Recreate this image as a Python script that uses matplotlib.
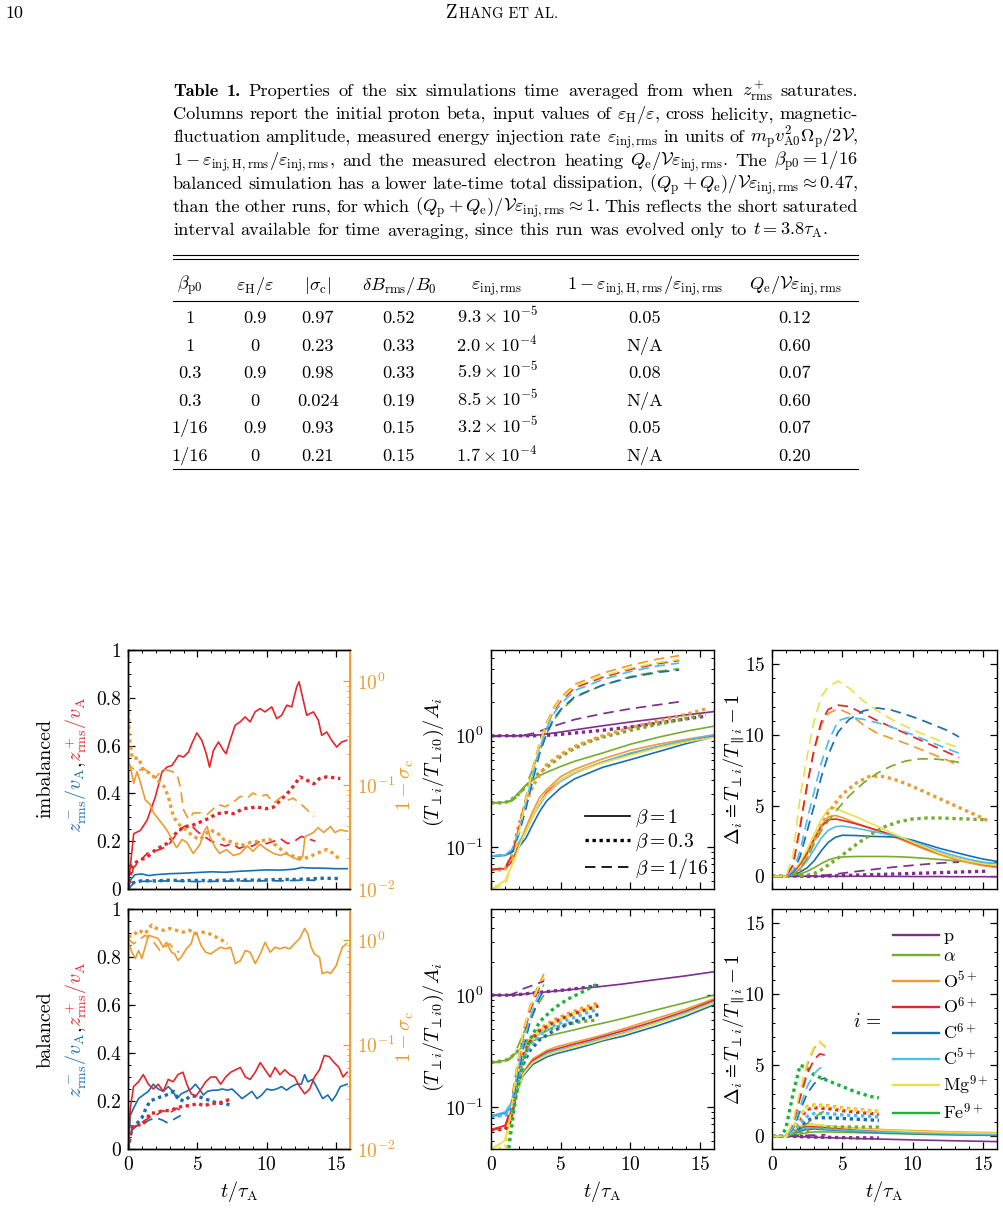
import matplotlib
matplotlib.use('Agg')
import matplotlib.pyplot as plt
from matplotlib.lines import Line2D
from matplotlib.ticker import MultipleLocator, FixedLocator, FixedFormatter, NullFormatter, LogLocator

plt.rcParams.update({
    'font.family': 'serif', 'font.serif': ['cmr10'], 'mathtext.fontset': 'cm',
    'axes.unicode_minus': False, 'axes.formatter.use_mathtext': True,
    'axes.linewidth': 1.0,
    'xtick.direction': 'in', 'ytick.direction': 'in',
    'xtick.top': True, 'ytick.right': True,
    'xtick.major.size': 5, 'ytick.major.size': 5,
    'xtick.minor.size': 2.5, 'ytick.minor.size': 2.5,
    'xtick.major.width': 0.9, 'ytick.major.width': 0.9,
    'xtick.minor.width': 0.7, 'ytick.minor.width': 0.7,
    'xtick.labelsize': 14, 'ytick.labelsize': 14,
    'xtick.major.pad': 5, 'ytick.major.pad': 5,
})

# ------------------------------------------------------------------ text data
CAPTION_LINES = [
    r"**Table **1. Properties of the six simulations time averaged from when $z^+_{\rm rms}$ saturates.",
    r"Columns report the initial proton beta, input values of $\varepsilon_{\rm H}/\varepsilon$, cross helicity, magnetic-",
    r"fluctuation amplitude, measured energy injection rate $\varepsilon_{\rm inj,rms}$ in units of $m_{\rm p}v^2_{\rm A0}\Omega_{\rm p}/2\mathcal{V}$,",
    r"$1-\varepsilon_{\rm inj,H,rms}/\varepsilon_{\rm inj,rms}$, and the measured electron heating $Q_{\rm e}/\mathcal{V}\varepsilon_{\rm inj,rms}$. The $\beta_{\rm p0}=1/16$",
    r"balanced simulation has a lower late-time total dissipation, $(Q_{\rm p}+Q_{\rm e})/\mathcal{V}\varepsilon_{\rm inj,rms}\approx 0.47$,",
    r"than the other runs, for which $(Q_{\rm p}+Q_{\rm e})/\mathcal{V}\varepsilon_{\rm inj,rms}\approx 1$. This reflects the short saturated",
    r"interval available for time averaging, since this run was evolved only to $t=3.8\tau_{\rm A}$.",
]

TAB_HEADERS = [r'$\beta_{\rm p0}$', r'$\varepsilon_{\rm H}/\varepsilon$', r'$|\sigma_{\rm c}|$',
               r'$\delta B_{\rm rms}/B_0$', r'$\varepsilon_{\rm inj,rms}$',
               r'$1-\varepsilon_{\rm inj,H,rms}/\varepsilon_{\rm inj,rms}$',
               r'$Q_{\rm e}/\mathcal{V}\varepsilon_{\rm inj,rms}$']
BETA_P0 = ['1', '1', '0.3', '0.3', '1/16', '1/16']
EPS_H = ['0.9', '0', '0.9', '0', '0.9', '0']
SIGMA_C = ['0.97', '0.23', '0.98', '0.024', '0.93', '0.21']
DB_RMS = ['0.52', '0.33', '0.33', '0.19', '0.15', '0.15']
EPS_INJ = [r'$9.3\times10^{-5}$', r'$2.0\times10^{-4}$', r'$5.9\times10^{-5}$',
           r'$8.5\times10^{-5}$', r'$3.2\times10^{-5}$', r'$1.7\times10^{-4}$']
ONE_MINUS = ['0.05', 'N/A', '0.08', 'N/A', '0.05', 'N/A']
QE = ['0.12', '0.60', '0.07', '0.60', '0.07', '0.20']

SPECIES = ['p', 'alpha', 'O5', 'O6', 'C6', 'C5', 'Mg9', 'Fe9']
SPECIES_LABELS = ['p', r'$\alpha$', r'O$^{5+}$', r'O$^{6+}$', r'C$^{6+}$', r'C$^{5+}$',
                  r'Mg$^{9+}$', r'Fe$^{9+}$']
BETA_LABELS = [r'$\beta=1$', r'$\beta=0.3$', r'$\beta=1/16$']
LEFT_TICKS = [0, 0.2, 0.4, 0.6, 0.8, 1.0]
LEFT_TICKLABELS = ['0', '0.2', '0.4', '0.6', '0.8', '1']
X_TICKS = [0, 5, 10, 15]
DELTA_TICKS = [0, 5, 10, 15]

# ------------------------------------------------------------------ left panels (t, value)
TL_ZP_B1 = [(0, 0), (0.41, 0.231), (0.89, 0.245), (1.37, 0.287), (1.97, 0.385), (2.45, 0.49), (2.81, 0.51),
            (3.17, 0.517), (3.65, 0.559), (4.0, 0.552), (4.36, 0.573), (4.6, 0.608), (4.96, 0.653), (5.32, 0.622),
            (5.64, 0.566), (5.88, 0.51), (6.16, 0.58), (6.52, 0.615), (6.88, 0.58), (7.07, 0.566), (7.36, 0.622),
            (7.72, 0.685), (8.08, 0.699), (8.44, 0.72), (8.8, 0.699), (9.16, 0.741), (9.52, 0.755), (9.88, 0.741),
            (10.36, 0.762), (10.72, 0.713), (11.08, 0.727), (11.44, 0.769), (11.8, 0.762), (12.16, 0.846),
            (12.33, 0.867), (12.52, 0.818), (12.88, 0.727), (13.36, 0.741), (13.72, 0.706), (13.96, 0.643),
            (14.32, 0.657), (14.68, 0.622), (15.04, 0.594), (15.4, 0.615), (15.76, 0.622)]
TL_ZP_B03 = [(0, 0), (0.3, 0.1), (0.8, 0.12), (1.37, 0.133), (2.0, 0.165), (2.8, 0.19), (3.4, 0.23), (4.0, 0.26),
             (4.6, 0.265), (5.2, 0.28), (5.8, 0.295), (6.4, 0.315), (7.1, 0.32), (7.6, 0.315), (8.3, 0.336),
             (9.3, 0.343), (10.0, 0.336), (10.5, 0.343), (11.1, 0.378), (11.7, 0.413), (12.4, 0.469), (12.9, 0.455),
             (13.4, 0.44), (13.8, 0.462), (14.3, 0.469), (14.8, 0.466), (15.3, 0.462)]
TL_ZP_B16 = [(0, 0), (0.4, 0.09), (0.9, 0.12), (1.4, 0.15), (2.0, 0.16), (2.5, 0.17), (3.0, 0.19), (3.5, 0.23),
             (4.0, 0.26), (4.5, 0.27), (5.0, 0.24), (5.5, 0.22), (6.0, 0.2), (6.5, 0.19), (7.0, 0.18), (7.5, 0.19),
             (8.0, 0.17), (8.5, 0.18), (9.0, 0.18), (9.5, 0.2), (10.0, 0.19), (10.5, 0.2), (11.0, 0.21),
             (11.5, 0.19), (12.0, 0.2), (12.5, 0.22), (13.0, 0.21), (13.5, 0.2)]
TL_ZM_B1 = [(0, 0), (0.2, 0.04), (0.5, 0.06), (1.0, 0.063), (1.5, 0.056), (2.0, 0.06), (3.0, 0.064), (4.0, 0.066),
            (5.0, 0.069), (6.0, 0.072), (7.0, 0.07), (8.0, 0.074), (9.0, 0.077), (10.0, 0.08), (11.0, 0.079),
            (12.0, 0.083), (12.5, 0.09), (13.0, 0.088), (14.0, 0.087), (15.0, 0.085), (15.8, 0.085)]
TL_ZM_B03 = [(0, 0), (0.3, 0.025), (0.7, 0.03), (1.0, 0.035), (2.0, 0.034), (3.0, 0.037), (4.0, 0.035), (5.0, 0.036),
             (6.0, 0.035), (7.0, 0.037), (8.0, 0.038), (9.0, 0.037), (10.0, 0.038), (11.0, 0.04), (12.0, 0.04),
             (13.0, 0.042), (14.0, 0.045), (15.0, 0.044), (15.3, 0.043)]
TL_ZM_B16 = [(0, 0), (0.5, 0.03), (1.0, 0.032), (2.0, 0.033), (3.0, 0.034), (4.0, 0.032), (5.0, 0.031), (6.0, 0.032),
             (7.0, 0.033), (8.0, 0.034), (9.0, 0.033), (10.0, 0.035), (11.0, 0.034), (12.0, 0.036), (13.0, 0.037),
             (13.5, 0.036)]
TL_SIG_B1 = [(0.0, 0.17), (0.17, 0.151), (0.41, 0.104), (0.65, 0.135), (0.84, 0.112), (1.25, 0.072), (1.6, 0.065),
             (1.85, 0.054), (2.2, 0.047), (2.8, 0.037), (3.17, 0.030), (3.5, 0.025), (3.9, 0.030), (4.25, 0.028),
             (4.7, 0.022), (5.2, 0.027), (5.45, 0.035), (5.7, 0.040), (5.9, 0.032), (6.3, 0.025), (6.6, 0.022),
             (7.1, 0.024), (7.6, 0.021), (8.1, 0.022), (8.6, 0.026), (9.0, 0.023), (9.5, 0.027), (10.0, 0.024),
             (10.5, 0.022), (11.0, 0.021), (11.4, 0.022), (11.9, 0.020), (12.4, 0.019), (12.6, 0.021),
             (12.76, 0.032), (13.0, 0.033), (13.36, 0.035), (13.7, 0.039), (14.1, 0.035), (14.6, 0.040),
             (14.9, 0.035), (15.3, 0.037), (15.8, 0.036)]
TL_SIG_B03 = [(0.0, 0.95), (0.08, 0.3), (0.3, 0.182), (0.77, 0.182), (1.1, 0.14), (1.6, 0.13), (2.1, 0.112),
              (2.6, 0.097), (2.9, 0.078), (3.2, 0.054), (3.4, 0.047), (3.8, 0.040), (4.2, 0.037), (4.7, 0.032),
              (5.2, 0.030), (5.9, 0.037), (6.4, 0.035), (6.9, 0.030), (7.6, 0.028), (8.1, 0.026), (8.8, 0.028),
              (9.5, 0.029), (10.2, 0.030), (10.7, 0.026), (11.4, 0.022), (12.2, 0.020), (12.9, 0.020),
              (13.6, 0.022), (14.3, 0.024), (14.8, 0.022), (15.3, 0.019)]
TL_SIG_B16 = [(0.0, 0.17), (0.17, 0.151), (0.65, 0.135), (1.1, 0.146), (1.6, 0.13), (1.97, 0.117), (2.45, 0.14),
              (2.8, 0.14), (3.17, 0.135), (3.5, 0.13), (3.77, 0.097), (4.0, 0.058), (4.36, 0.047), (4.72, 0.054),
              (5.2, 0.054), (5.7, 0.052), (6.2, 0.06), (6.5, 0.065), (7.0, 0.062), (7.5, 0.067), (8.1, 0.078),
              (8.6, 0.075), (9.0, 0.084), (9.5, 0.078), (10.0, 0.081), (10.5, 0.067), (11.1, 0.078), (11.6, 0.072),
              (11.9, 0.075), (12.4, 0.067), (12.9, 0.058), (13.4, 0.05)]

BL_ZP_B1 = [(0, 0), (0.17, 0.17), (0.4, 0.26), (0.76, 0.28), (1.1, 0.31), (1.47, 0.27), (1.82, 0.25), (2.18, 0.27),
            (2.54, 0.24), (2.9, 0.29), (3.25, 0.28), (3.6, 0.31), (3.96, 0.32), (4.24, 0.27), (4.55, 0.23),
            (4.9, 0.22), (5.26, 0.25), (5.6, 0.28), (5.97, 0.30), (6.33, 0.30), (6.68, 0.27), (7.04, 0.30),
            (7.4, 0.32), (7.75, 0.33), (8.1, 0.34), (8.46, 0.30), (8.8, 0.29), (9.17, 0.32), (9.53, 0.36),
            (9.88, 0.33), (10.24, 0.30), (10.6, 0.34), (10.95, 0.31), (11.3, 0.33), (11.66, 0.31), (12.0, 0.30),
            (12.37, 0.26), (12.73, 0.23), (13.1, 0.25), (13.44, 0.30), (13.8, 0.33), (14.15, 0.39), (14.5, 0.385),
            (14.86, 0.36), (15.2, 0.34), (15.5, 0.30), (15.8, 0.32)]
BL_ZM_B1 = [(0, 0), (0.17, 0.14), (0.4, 0.17), (0.76, 0.21), (1.1, 0.225), (1.47, 0.24), (1.82, 0.27), (2.18, 0.25),
            (2.54, 0.24), (2.9, 0.26), (3.25, 0.24), (3.53, 0.21), (3.84, 0.23), (4.2, 0.24), (4.55, 0.25),
            (4.86, 0.27), (5.14, 0.25), (5.43, 0.225), (5.73, 0.24), (6.1, 0.245), (6.45, 0.245), (6.8, 0.25),
            (7.16, 0.245), (7.5, 0.25), (7.87, 0.23), (8.22, 0.21), (8.58, 0.225), (8.93, 0.24), (9.3, 0.21),
            (9.64, 0.225), (10.0, 0.25), (10.36, 0.245), (10.7, 0.25), (11.07, 0.26), (11.42, 0.245),
            (11.78, 0.26), (12.13, 0.27), (12.5, 0.27), (12.73, 0.31), (12.96, 0.28), (13.3, 0.29), (13.67, 0.25),
            (14.03, 0.21), (14.4, 0.225), (14.7, 0.2), (15.0, 0.225), (15.3, 0.26), (15.8, 0.27)]
BL_ZP_B03 = [(0, 0), (0.2, 0.08), (0.5, 0.1), (1.0, 0.1), (1.3, 0.12), (1.6, 0.15), (2.0, 0.15), (2.5, 0.16),
             (3.0, 0.16), (3.5, 0.17), (4.0, 0.18), (4.5, 0.18), (5.0, 0.19), (5.5, 0.18), (6.0, 0.19), (6.5, 0.19),
             (7.0, 0.2), (7.5, 0.21)]
BL_ZP_B16 = [(0, 0), (0.3, 0.09), (0.7, 0.1), (1.0, 0.11), (1.5, 0.13), (2.0, 0.14), (2.5, 0.16), (3.0, 0.15),
             (3.5, 0.17), (3.8, 0.16)]
BL_ZM_B03 = [(0, 0), (0.3, 0.09), (0.7, 0.11), (1.0, 0.13), (1.3, 0.17), (1.6, 0.2), (2.0, 0.21), (2.5, 0.22),
             (3.0, 0.23), (3.3, 0.24), (3.6, 0.21), (4.0, 0.2), (4.5, 0.22), (5.0, 0.22), (5.5, 0.21), (6.0, 0.2),
             (6.5, 0.19), (7.0, 0.19), (7.5, 0.18)]
BL_ZM_B16 = [(0, 0), (0.3, 0.08), (0.7, 0.1), (1.0, 0.1), (1.5, 0.12), (2.0, 0.13), (2.5, 0.12), (2.8, 0.11),
             (3.2, 0.12), (3.5, 0.13), (3.8, 0.14)]
BL_SIG_B1 = [(0, 1.0), (0.28, 0.77), (0.52, 0.67), (0.76, 0.8), (1.0, 0.67), (1.23, 0.86), (1.47, 1.12), (1.82, 1.08),
             (2.18, 1.04), (2.54, 0.86), (2.77, 0.96), (3.13, 0.77), (3.37, 0.74), (3.6, 0.64), (3.84, 0.69),
             (4.2, 0.83), (4.55, 0.93), (4.79, 1.2), (5.0, 1.12), (5.26, 0.9), (5.6, 0.77), (5.97, 0.74), (6.3, 0.8),
             (6.68, 0.86), (7.04, 0.83), (7.4, 0.86), (7.75, 0.6), (8.1, 0.64), (8.46, 0.8), (8.8, 0.77),
             (9.17, 0.6), (9.53, 0.74), (9.88, 0.96), (10.24, 0.77), (10.6, 0.86), (10.95, 0.83), (11.3, 0.86),
             (11.66, 0.83), (12.0, 0.93), (12.37, 1.04), (12.73, 1.3), (12.96, 1.16), (13.2, 0.86), (13.44, 0.74),
             (13.8, 0.69), (14.0, 0.48), (14.4, 0.5), (14.6, 0.48), (15.0, 0.57), (15.2, 0.69), (15.45, 0.86),
             (15.76, 0.93)]
BL_SIG_B03 = [(0, 1.08), (0.4, 1.12), (0.76, 1.25), (1.23, 1.16), (1.7, 1.4), (2.06, 1.3), (2.54, 1.25), (3.0, 1.3),
              (3.48, 1.25), (3.96, 1.2), (4.43, 1.25), (4.9, 1.16), (5.38, 1.2), (5.85, 1.16), (6.33, 1.08),
              (6.8, 1.0), (7.16, 0.93)]
BL_SIG_B16 = [(0, 1.04), (0.4, 0.93), (0.76, 1.0), (1.23, 1.12), (1.6, 1.04), (1.94, 0.93), (2.3, 0.8), (2.65, 0.86),
              (3.0, 0.93), (3.37, 0.8), (3.7, 0.77)]

# ------------------------------------------------------------------ middle panels: (T_perp/T_perp0)/A_i
TM_T_SOLID = [0, 1, 1.5, 2, 2.5, 3, 3.5, 4, 5, 6, 8, 10, 12, 14, 16]
TM_SOLID = {
    'p':     [1, 1, 1, 1, 1.005, 1.01, 1.02, 1.04, 1.08, 1.13, 1.23, 1.33, 1.43, 1.54, 1.65],
    'alpha': [0.25, 0.252, 0.265, 0.31, 0.36, 0.4, 0.44, 0.47, 0.53, 0.59, 0.7, 0.84, 0.97, 1.1, 1.22],
    'O5':    [0.0625, 0.064, 0.075, 0.105, 0.15, 0.21, 0.28, 0.33, 0.43, 0.5, 0.62, 0.74, 0.84, 0.93, 1.02],
    'O6':    [0.0625, 0.064, 0.074, 0.1, 0.14, 0.19, 0.25, 0.31, 0.4, 0.47, 0.58, 0.69, 0.8, 0.9, 1.0],
    'C6':    [0.083, 0.084, 0.09, 0.1, 0.12, 0.16, 0.21, 0.26, 0.34, 0.41, 0.52, 0.61, 0.72, 0.85, 0.98],
    'C5':    [0.083, 0.085, 0.092, 0.11, 0.14, 0.19, 0.24, 0.3, 0.39, 0.46, 0.58, 0.7, 0.8, 0.91, 1.02],
    'Mg9':   [0.0417, 0.05, 0.068, 0.1, 0.14, 0.19, 0.25, 0.3, 0.4, 0.47, 0.57, 0.67, 0.78, 0.88, 0.97],
}
TM_T_DOT = [0, 1, 1.5, 2, 2.5, 3, 3.5, 4, 5, 6, 7, 8, 10, 12, 14, 15.4]
TM_DOT = {
    'p':     [1, 1, 1, 1, 1, 1, 1, 1.01, 1.03, 1.06, 1.09, 1.12, 1.2, 1.3, 1.42, 1.5],
    'alpha': [0.25, 0.25, 0.27, 0.3, 0.35, 0.41, 0.47, 0.52, 0.65, 0.77, 0.88, 0.97, 1.12, 1.27, 1.43, 1.55],
    'O5':    [0.0625, 0.0625, 0.085, 0.16, 0.25, 0.35, 0.45, 0.55, 0.68, 0.8, 0.9, 1.0, 1.18, 1.36, 1.56, 1.74],
}
TM_T_DASH = [0, 1, 1.5, 2, 2.5, 3, 3.5, 4, 4.5, 5, 6, 8, 10, 12, 13.5]
TM_DASH = {
    'p':     [1, 1, 1, 1.0, 1.02, 1.05, 1.1, 1.16, 1.22, 1.28, 1.4, 1.58, 1.75, 1.9, 2.02],
    'alpha': [0.25, 0.25, 0.26, 0.29, 0.36, 0.5, 0.74, 1.05, 1.38, 1.68, 2.2, 2.85, 3.4, 3.8, 4.0],
    'O5':    [0.0625, 0.065, 0.085, 0.15, 0.28, 0.52, 0.88, 1.32, 1.8, 2.2, 2.9, 3.65, 4.3, 4.9, 5.25],
    'O6':    [0.0625, 0.065, 0.083, 0.145, 0.27, 0.49, 0.83, 1.24, 1.68, 2.05, 2.7, 3.35, 3.95, 4.45, 4.75],
    'C6':    [0.083, 0.085, 0.09, 0.13, 0.22, 0.4, 0.7, 1.05, 1.42, 1.72, 2.25, 2.85, 3.35, 3.72, 3.9],
    'C5':    [0.083, 0.085, 0.095, 0.14, 0.25, 0.45, 0.78, 1.17, 1.58, 1.93, 2.55, 3.2, 3.78, 4.25, 4.5],
    'Mg9':   [0.0417, 0.046, 0.068, 0.135, 0.27, 0.5, 0.86, 1.27, 1.73, 2.12, 2.8, 3.45, 4.05, 4.55, 4.85],
}
BM_T_SOLID = [0, 1, 1.5, 2, 2.3, 3, 4, 4.7, 6, 7.1, 8, 9.5, 11.9, 14, 16]
BM_SOLID = {
    'p':     [1, 1.0, 1.0, 1.01, 1.02, 1.04, 1.07, 1.09, 1.13, 1.17, 1.2, 1.26, 1.38, 1.49, 1.62],
    'alpha': [0.25, 0.26, 0.28, 0.32, 0.35, 0.39, 0.43, 0.45, 0.49, 0.53, 0.56, 0.62, 0.74, 0.86, 1.0],
    'O5':    [0.0625, 0.068, 0.095, 0.16, 0.205, 0.27, 0.32, 0.345, 0.38, 0.41, 0.44, 0.5, 0.62, 0.75, 0.93],
    'O6':    [0.0625, 0.068, 0.093, 0.155, 0.2, 0.26, 0.31, 0.33, 0.365, 0.395, 0.425, 0.48, 0.59, 0.72, 0.9],
    'C6':    [0.083, 0.088, 0.1, 0.15, 0.19, 0.24, 0.28, 0.3, 0.33, 0.36, 0.39, 0.43, 0.53, 0.65, 0.82],
    'C5':    [0.083, 0.09, 0.11, 0.16, 0.2, 0.25, 0.3, 0.32, 0.35, 0.38, 0.41, 0.46, 0.57, 0.7, 0.87],
    'Mg9':   [0.0417, 0.05, 0.085, 0.15, 0.195, 0.25, 0.29, 0.31, 0.345, 0.37, 0.4, 0.45, 0.56, 0.68, 0.85],
}
BM_T_DOT = [0, 1, 1.3, 1.6, 1.85, 2.3, 2.8, 3.5, 4.5, 5.5, 6.5, 7.7]
BM_DOT = {
    'p':     [1, 1, 1, 1, 1.01, 1.02, 1.04, 1.06, 1.09, 1.12, 1.16, 1.22],
    'alpha': [0.25, 0.26, 0.27, 0.29, 0.31, 0.36, 0.41, 0.46, 0.51, 0.55, 0.58, 0.6],
    'O5':    [0.0625, 0.063, 0.07, 0.1, 0.17, 0.3, 0.4, 0.5, 0.6, 0.68, 0.76, 0.85],
    'O6':    [0.0625, 0.063, 0.07, 0.1, 0.16, 0.28, 0.38, 0.48, 0.57, 0.65, 0.72, 0.8],
    'C6':    [0.083, 0.084, 0.088, 0.1, 0.14, 0.24, 0.32, 0.4, 0.48, 0.55, 0.61, 0.67],
    'C5':    [0.083, 0.084, 0.09, 0.11, 0.15, 0.26, 0.35, 0.44, 0.53, 0.6, 0.67, 0.75],
    'Mg9':   [0.0417, 0.043, 0.055, 0.09, 0.15, 0.28, 0.38, 0.48, 0.57, 0.65, 0.73, 0.8],
    'Fe9':   [0.0179, 0.018, 0.045, 0.085, 0.14, 0.25, 0.4, 0.58, 0.76, 0.92, 1.06, 1.27],
}
BM_T_DASH = [0, 1, 1.4, 1.85, 2.3, 2.8, 3.3, 3.8]
BM_DASH = {
    'p':     [1, 1, 1.01, 1.06, 1.14, 1.2, 1.26, 1.34],
    'alpha': [0.25, 0.25, 0.27, 0.33, 0.45, 0.6, 0.8, 1.0],
    'O5':    [0.0625, 0.065, 0.1, 0.23, 0.47, 0.8, 1.15, 1.55],
    'O6':    [0.0625, 0.065, 0.095, 0.21, 0.42, 0.72, 1.05, 1.4],
    'C6':    [0.083, 0.085, 0.1, 0.17, 0.33, 0.57, 0.85, 1.12],
    'C5':    [0.083, 0.085, 0.1, 0.19, 0.37, 0.63, 0.93, 1.25],
    'Mg9':   [0.0417, 0.05, 0.085, 0.22, 0.45, 0.77, 1.1, 1.45],
}

# ------------------------------------------------------------------ right panels: Delta_i
TR_T_SOLID = [0, 1, 1.5, 2, 2.5, 3, 3.5, 4, 4.5, 5, 6, 7, 8, 9, 10, 11, 12, 13, 14, 15, 16]
TR_SOLID = {
    'p':     [0, 0, 0, 0, 0, 0, 0, 0, 0, 0, 0, 0, -0.01, -0.01, -0.02, -0.02, -0.02, -0.03, -0.03, -0.03, -0.04],
    'alpha': [0, 0, 0.03, 0.15, 0.35, 0.6, 0.9, 1.15, 1.3, 1.37, 1.4, 1.4, 1.4, 1.38, 1.33, 1.26, 1.18, 1.1, 1.02, 0.95, 0.9],
    'O5':    [0, 0, 0.3, 0.9, 1.7, 2.7, 3.6, 4.2, 4.3, 4.15, 3.75, 3.4, 3.05, 2.65, 2.25, 1.85, 1.5, 1.2, 0.95, 0.75, 0.62],
    'O6':    [0, 0, 0.25, 0.85, 1.6, 2.6, 3.5, 4.0, 4.05, 3.95, 3.7, 3.4, 3.1, 2.75, 2.35, 1.95, 1.6, 1.3, 1.05, 0.85, 0.7],
    'C6':    [0, 0, 0.08, 0.3, 0.6, 1.1, 1.8, 2.4, 2.75, 2.9, 2.88, 2.82, 2.8, 2.75, 2.55, 2.25, 1.95, 1.7, 1.45, 1.22, 1.05],
    'C5':    [0, 0, 0.15, 0.55, 1.1, 1.9, 2.7, 3.25, 3.5, 3.55, 3.4, 3.2, 3.0, 2.8, 2.45, 2.1, 1.75, 1.45, 1.2, 1.0, 0.9],
    'Mg9':   [0, 0, 0.35, 1.0, 1.9, 3.0, 4.0, 4.75, 4.85, 4.6, 4.2, 3.75, 3.3, 2.85, 2.4, 2.0, 1.6, 1.3, 1.05, 0.88, 0.75],
}
TR_T_DOT = [0, 1, 1.5, 2, 2.5, 3, 3.5, 4, 5, 6, 7, 8, 9, 10, 11, 12, 13, 14, 15, 15.3]
TR_DOT = {
    'p':     [0, 0, 0, 0, 0, 0, 0.01, 0.02, 0.05, 0.08, 0.11, 0.14, 0.17, 0.2, 0.23, 0.26, 0.29, 0.32, 0.35, 0.36],
    'alpha': [0, 0, 0, 0.02, 0.08, 0.2, 0.45, 0.8, 1.5, 2.25, 2.95, 3.5, 3.85, 4.05, 4.12, 4.12, 4.08, 4.05, 4.0, 3.95],
    'O5':    [0, 0, 0.1, 0.5, 1.3, 2.5, 3.6, 4.5, 5.8, 6.6, 7.1, 7.05, 6.75, 6.35, 5.9, 5.45, 5.0, 4.55, 4.1, 3.95],
}
TR_T_DASH = [0, 1, 1.5, 2, 2.5, 3, 3.5, 4, 4.7, 5.5, 6.5, 7.5, 8.5, 9.5, 10.5, 11.5, 12.5, 13.3]
TR_DASH = {
    'p':     [0, 0, 0, 0, 0, 0.02, 0.05, 0.1, 0.18, 0.28, 0.4, 0.52, 0.63, 0.73, 0.82, 0.9, 0.97, 1.0],
    'alpha': [0, 0, 0.1, 0.5, 1.3, 2.3, 3.2, 3.9, 4.8, 5.7, 6.6, 7.3, 7.8, 8.15, 8.3, 8.3, 8.2, 8.05],
    'O5':    [0, 0, 0.8, 3.5, 6.4, 8.9, 10.7, 11.5, 11.85, 11.5, 10.7, 10.1, 9.75, 9.4, 9.0, 8.6, 8.2, 7.8],
    'O6':    [0, 0, 0.8, 3.5, 6.5, 9.0, 10.9, 11.8, 12.1, 12.0, 11.5, 11.0, 10.55, 10.1, 9.65, 9.2, 8.75, 8.4],
    'C6':    [0, 0, 0.3, 1.4, 3.2, 5.0, 7.0, 8.6, 10.2, 11.1, 11.7, 11.9, 11.75, 11.45, 11.1, 10.7, 10.3, 9.85],
    'C5':    [0, 0, 0.4, 1.8, 4.0, 6.0, 8.0, 9.5, 11.0, 11.25, 11.1, 10.85, 10.55, 10.2, 9.8, 9.4, 9.0, 8.7],
    'Mg9':   [0, 0, 1.5, 5.6, 8.5, 11.0, 12.7, 13.4, 13.8, 13.3, 12.4, 11.7, 11.1, 10.6, 10.15, 9.75, 9.35, 9.1],
}
BR_T_SOLID = [0, 1, 1.5, 2, 2.5, 3, 4, 6, 8, 10, 12, 14, 16]
BR_SOLID = {
    'p':     [0, 0, -0.01, -0.03, -0.05, -0.07, -0.1, -0.16, -0.21, -0.26, -0.3, -0.34, -0.38],
    'alpha': [0, 0, 0.05, 0.15, 0.25, 0.3, 0.3, 0.25, 0.2, 0.15, 0.1, 0.08, 0.05],
    'O5':    [0, 0, 0.3, 0.7, 0.85, 0.82, 0.72, 0.56, 0.46, 0.39, 0.33, 0.28, 0.25],
    'O6':    [0, 0, 0.25, 0.55, 0.68, 0.66, 0.57, 0.44, 0.35, 0.29, 0.24, 0.2, 0.17],
    'C6':    [0, 0, 0.15, 0.35, 0.5, 0.5, 0.45, 0.34, 0.25, 0.19, 0.14, 0.11, 0.08],
    'C5':    [0, 0, 0.2, 0.45, 0.6, 0.58, 0.5, 0.38, 0.29, 0.23, 0.18, 0.14, 0.11],
    'Mg9':   [0, 0, 0.35, 0.75, 0.88, 0.84, 0.72, 0.53, 0.42, 0.34, 0.28, 0.24, 0.21],
}
BR_T_DOT = [0, 0.7, 1, 1.5, 2, 2.5, 3, 4, 5, 6, 7, 7.6]
BR_DOT = {
    'p':     [0, 0, 0, -0.01, -0.03, -0.05, -0.06, -0.08, -0.1, -0.11, -0.12, -0.13],
    'alpha': [0, 0, 0, 0.05, 0.2, 0.4, 0.55, 0.63, 0.65, 0.65, 0.65, 0.65],
    'O5':    [0, 0, 0, 0.5, 1.5, 2.1, 2.2, 2.15, 2.0, 1.9, 1.8, 1.75],
    'O6':    [0, 0, 0, 0.4, 1.3, 1.9, 2.0, 1.95, 1.8, 1.7, 1.6, 1.55],
    'C6':    [0, 0, 0, 0.15, 0.6, 1.1, 1.3, 1.3, 1.25, 1.2, 1.15, 1.1],
    'C5':    [0, 0, 0, 0.25, 0.9, 1.4, 1.6, 1.6, 1.5, 1.45, 1.4, 1.35],
    'Mg9':   [0, 0, 0, 0.5, 1.5, 2.05, 2.15, 2.1, 1.95, 1.85, 1.75, 1.7],
    'Fe9':   [0, 0, 0.6, 3.0, 5.0, 4.8, 4.3, 3.9, 3.5, 3.1, 2.8, 2.7],
}
BR_T_DASH = [0, 1, 1.5, 2, 2.5, 3, 3.4, 3.8]
BR_DASH = {
    'p':     [0, 0, 0, 0.03, 0.06, 0.08, 0.09, 0.1],
    'alpha': [0, 0, 0.15, 0.5, 0.9, 1.3, 1.6, 1.8],
    'O5':    [0, 0, 0.9, 3.0, 5.0, 6.2, 6.6, 6.3],
    'O6':    [0, 0, 0.8, 2.7, 4.4, 5.4, 5.8, 5.7],
    'C6':    [0, 0, 0.5, 1.8, 3.0, 3.7, 4.0, 4.1],
    'C5':    [0, 0, 0.6, 2.1, 3.5, 4.4, 4.8, 4.8],
    'Mg9':   [0, 0, 1.0, 3.2, 5.2, 6.3, 6.7, 6.2],
}

# ------------------------------------------------------------------ styles
COLORS = {'p': '#7E2F8E', 'alpha': '#77AC30', 'O5': '#EC9C30', 'O6': '#E4262C',
          'C6': '#1B6DB0', 'C5': '#4DBEEE', 'Mg9': '#EEDF48', 'Fe9': '#1FB23A'}
ORANGE = '#EC9C30'
RED = '#E4262C'
BLUE = '#1B6DB0'
STYLE = {
    'solid': dict(lw=1.2, ls='-'),
    'dot': dict(lw=2.4, ls=(0, (1, 1.1)), dash_capstyle='butt'),
    'dash': dict(lw=1.25, ls=(0, (6, 3.5))),
}

W, H = 1004, 1226
fig = plt.figure(figsize=(W / 100, H / 100), dpi=100)
renderer = fig.canvas.get_renderer()


def fx(x):
    return x / W


def fy(y):
    return 1 - y / H


# ------------------------------------------------------------------ header
fig.text(fx(5), fy(18), '10', fontsize=13, va='baseline', ha='left')


def place_sequence(pieces, xc, ybase):
    arts, widths = [], []
    for s, size in pieces:
        t = fig.text(0, 0, s, fontsize=size, va='baseline', ha='left')
        arts.append(t)
        widths.append(t.get_window_extent(renderer).width)
    x = xc - (sum(widths) + 1.5 * (len(widths) - 1)) / 2
    for a, w in zip(arts, widths):
        a.set_position((fx(x), fy(ybase)))
        x += w + 1.5


place_sequence([('Z', 13.5), ('HANG ET AL.', 10.5)], 502, 18)


# ------------------------------------------------------------------ caption (justified)
def split_tokens(line):
    out, buf = [], None
    for p in line.split(' '):
        buf = p if buf is None else buf + ' ' + p
        if buf.count('$') % 2 == 0:
            out.append(buf)
            buf = None
    if buf:
        out.append(buf)
    return out


def make_text(tok, size):
    bold = tok.startswith('**')
    s = tok[2:] if bold else tok
    kw = dict(fontsize=size, ha='left', va='baseline')
    if bold:
        kw['family'] = 'cmb10'
    return fig.text(0, 0, s, **kw)


def measure(tok, size):
    t = make_text(tok, size)
    w = t.get_window_extent(renderer).width
    t.remove()
    return w


CAP_X0, CAP_X1 = 173, 858
Wd = CAP_X1 - CAP_X0
tok_lines = [split_tokens(l) for l in CAPTION_LINES]
c_space = 0.333 * 100 / 72
a_list, m_list = [], []
for toks in tok_lines[:-1]:
    a_list.append(sum(measure(t, 10) for t in toks) / 10)
    m_list.append(len(toks) - 1)
num = Wd * sum(1 / m for m in m_list) / len(m_list)
den = sum(a / m for a, m in zip(a_list, m_list)) / len(m_list) + c_space
CAP_SIZE = max(12.0, min(15.5, num / den))

space_px = c_space * CAP_SIZE
cap_base = [96 + 23.2 * k for k in range(len(tok_lines))]
for i, toks in enumerate(tok_lines):
    arts = [make_text(t, CAP_SIZE) for t in toks]
    ws = [a.get_window_extent(renderer).width for a in arts]
    if i == len(tok_lines) - 1:
        gap = space_px
    else:
        gap = max(2.0, (Wd - sum(ws)) / (len(toks) - 1))
    x = CAP_X0
    for a, w in zip(arts, ws):
        a.set_position((fx(x), fy(cap_base[i])))
        x += w + gap


# ------------------------------------------------------------------ table
def hrule(y, lw=0.8):
    fig.add_artist(Line2D([fx(CAP_X0), fx(CAP_X1)], [fy(y), fy(y)], color='k', lw=lw,
                          transform=fig.transFigure))


hrule(255)
hrule(259)
hrule(301)
hrule(469)
COL_X = [190, 255, 318, 399, 497, 645, 795]
for xc, lab in zip(COL_X, TAB_HEADERS):
    fig.text(fx(xc), fy(290), lab, fontsize=CAP_SIZE, ha='center', va='baseline')
ROW_BASE = [323, 351, 378, 406, 433, 461]
columns = [BETA_P0, EPS_H, SIGMA_C, DB_RMS, EPS_INJ, ONE_MINUS, QE]
for xc, col in zip(COL_X, columns):
    for yb, val in zip(ROW_BASE, col):
        fig.text(fx(xc), fy(yb), val, fontsize=CAP_SIZE, ha='center', va='baseline')


# ------------------------------------------------------------------ axes
def make_axes(x0, x1, y0, y1):
    return fig.add_axes([x0 / W, 1 - y1 / H, (x1 - x0) / W, (y1 - y0) / H])


ax_tl = make_axes(128, 350, 650, 889)
ax_tm = make_axes(491, 714, 650, 889)
ax_tr = make_axes(772, 997, 650, 889)
ax_bl = make_axes(128, 350, 909, 1149)
ax_bm = make_axes(491, 714, 909, 1149)
ax_br = make_axes(772, 997, 909, 1149)

for ax in [ax_tl, ax_tm, ax_tr, ax_bl, ax_bm, ax_br]:
    ax.set_xlim(0, 16)
    ax.xaxis.set_major_locator(FixedLocator(X_TICKS))
    ax.xaxis.set_minor_locator(MultipleLocator(1))
    ax.tick_params(which='both', direction='in', top=True, right=True)
for ax in [ax_tl, ax_tm, ax_tr]:
    ax.tick_params(labelbottom=False)


def plot_pairs(ax, pairs, color, style):
    t = [p[0] for p in pairs]
    v = [p[1] for p in pairs]
    ax.plot(t, v, color=color, **STYLE[style])


def plot_group(ax, t, data, style):
    for sp in SPECIES:
        if sp in data:
            ax.plot(t, data[sp], color=COLORS[sp], **STYLE[style])


# left panels
left_sets = [
    (ax_tl, TL_ZP_B1, TL_ZP_B03, TL_ZP_B16, TL_ZM_B1, TL_ZM_B03, TL_ZM_B16, TL_SIG_B1, TL_SIG_B03, TL_SIG_B16),
    (ax_bl, BL_ZP_B1, BL_ZP_B03, BL_ZP_B16, BL_ZM_B1, BL_ZM_B03, BL_ZM_B16, BL_SIG_B1, BL_SIG_B03, BL_SIG_B16),
]
for ax, zp1, zp03, zp16, zm1, zm03, zm16, s1, s03, s16 in left_sets:
    ax.set_ylim(0, 1)
    ax.yaxis.set_major_locator(FixedLocator(LEFT_TICKS))
    ax.yaxis.set_major_formatter(FixedFormatter(LEFT_TICKLABELS))
    ax.yaxis.set_minor_locator(MultipleLocator(0.05))
    plot_pairs(ax, zm1, BLUE, 'solid')
    plot_pairs(ax, zm03, BLUE, 'dot')
    plot_pairs(ax, zm16, BLUE, 'dash')
    plot_pairs(ax, zp1, RED, 'solid')
    plot_pairs(ax, zp03, RED, 'dot')
    plot_pairs(ax, zp16, RED, 'dash')
    ax2 = ax.twinx()
    ax2.set_yscale('log')
    ax2.set_ylim(0.01, 2.0)
    ax2.yaxis.set_major_locator(LogLocator(base=10))
    ax2.yaxis.set_minor_locator(LogLocator(base=10, subs=range(2, 10)))
    ax2.yaxis.set_minor_formatter(NullFormatter())
    ax2.tick_params(which='both', direction='in', colors=ORANGE, labelsize=14)
    ax2.spines['right'].set_color(ORANGE)
    ax2.spines['right'].set_linewidth(1.3)
    ax.spines['right'].set_color(ORANGE)
    ax.tick_params(which='both', right=False)
    plot_pairs(ax2, s1, ORANGE, 'solid')
    plot_pairs(ax2, s03, ORANGE, 'dot')
    plot_pairs(ax2, s16, ORANGE, 'dash')

# middle panels
for ax, ts, ds, td, dd, tq, dq in [
        (ax_tm, TM_T_SOLID, TM_SOLID, TM_T_DOT, TM_DOT, TM_T_DASH, TM_DASH),
        (ax_bm, BM_T_SOLID, BM_SOLID, BM_T_DOT, BM_DOT, BM_T_DASH, BM_DASH)]:
    ax.set_yscale('log')
    ax.set_ylim(0.042, 5.9)
    ax.yaxis.set_major_locator(LogLocator(base=10))
    ax.yaxis.set_minor_locator(LogLocator(base=10, subs=range(2, 10)))
    ax.yaxis.set_minor_formatter(NullFormatter())
    ax.tick_params(which='both', direction='in', right=True, top=True)
    plot_group(ax, ts, ds, 'solid')
    plot_group(ax, td, dd, 'dot')
    plot_group(ax, tq, dq, 'dash')

# right panels
for ax, ts, ds, td, dd, tq, dq in [
        (ax_tr, TR_T_SOLID, TR_SOLID, TR_T_DOT, TR_DOT, TR_T_DASH, TR_DASH),
        (ax_br, BR_T_SOLID, BR_SOLID, BR_T_DOT, BR_DOT, BR_T_DASH, BR_DASH)]:
    ax.set_ylim(-0.9, 16)
    ax.yaxis.set_major_locator(FixedLocator(DELTA_TICKS))
    ax.yaxis.set_minor_locator(MultipleLocator(1))
    plot_group(ax, ts, ds, 'solid')
    plot_group(ax, td, dd, 'dot')
    plot_group(ax, tq, dq, 'dash')

# legends
beta_handles = [Line2D([], [], color='k', **STYLE[s]) for s in ['solid', 'dot', 'dash']]
leg1 = ax_tm.legend(beta_handles, BETA_LABELS, loc='lower right', bbox_to_anchor=(0.975, 0.035),
                    frameon=False, fontsize=14, handlelength=2.3, handletextpad=0.3,
                    labelspacing=0.12, borderpad=0, borderaxespad=0)
sp_handles = [Line2D([], [], color=COLORS[s], lw=1.7) for s in SPECIES]
leg2 = ax_br.legend(sp_handles, SPECIES_LABELS, loc='upper left', bbox_to_anchor=(0.54, 0.92),
                    frameon=False, fontsize=13, handlelength=2.5, handletextpad=0.25,
                    labelspacing=0.29, borderpad=0, borderaxespad=0)
ax_br.text(0.425, 0.53, r'$i\,=$', transform=ax_br.transAxes, fontsize=14, ha='center', va='center')

# ------------------------------------------------------------------ labels
LAB = 14.5
fig.text(fx(45), fy(768), 'imbalanced', rotation=90, ha='center', va='center', fontsize=LAB)
fig.text(fx(45), fy(1030), 'balanced', rotation=90, ha='center', va='center', fontsize=LAB)


def vertical_multicolor(pieces, x_base, y_center, size):
    lengths = []
    for s, c in pieces:
        t = fig.text(0, 0, s, fontsize=size)
        lengths.append(t.get_window_extent(renderer).width)
        t.remove()
    cur = y_center + sum(lengths) / 2
    for (s, c), L in zip(pieces, lengths):
        fig.text(fx(x_base), fy(cur), s, fontsize=size, color=c, rotation=90,
                 rotation_mode='anchor', ha='left', va='baseline')
        cur -= L


Z_PIECES = [(r'$z^-_{\rm rms}/v_{\rm A}$', BLUE), (r'$,\;$', 'k'), (r'$z^+_{\rm rms}/v_{\rm A}$', RED)]
vertical_multicolor(Z_PIECES, 82, 765, LAB)
vertical_multicolor(Z_PIECES, 82, 1030, LAB)

for yc in [785, 1037]:
    fig.text(fx(405), fy(yc), r'$1-\sigma_{\rm c}$', rotation=90, ha='center', va='center',
             fontsize=LAB, color=ORANGE)
for yc in [762, 1027]:
    fig.text(fx(434), fy(yc), r'$(T_{\perp i}/T_{\perp i0})/A_i$', rotation=90, ha='center',
             va='center', fontsize=LAB)
for yc in [770, 1030]:
    fig.text(fx(734), fy(yc), r'$\Delta_i \doteq T_{\perp i}/T_{\parallel i}-1$', rotation=90,
             ha='center', va='center', fontsize=LAB)
for xc in [239, 602, 884]:
    fig.text(fx(xc), fy(1192), r'$t/\tau_{\rm A}$', ha='center', va='center', fontsize=LAB)

fig.savefig('out.png', dpi=100)
